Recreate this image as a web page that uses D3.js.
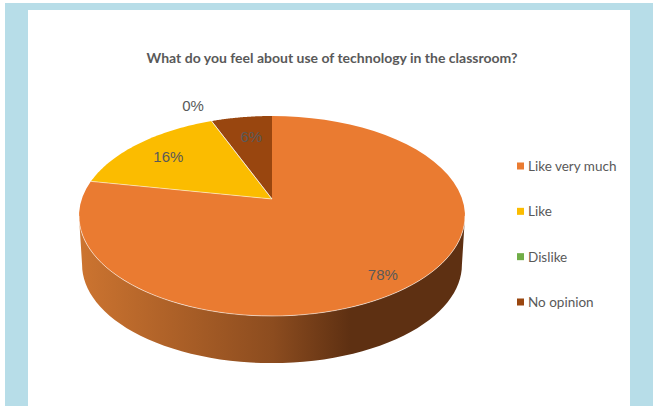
<!DOCTYPE html>
<html>
<head>
<meta charset="utf-8">
<style>
html, body { margin: 0; padding: 0; background: #fff; }
svg { display: block; }
</style>
<script src="https://cdn.jsdelivr.net/npm/d3@7/dist/d3.min.js"></script>
</head>
<body>
<svg id="chart" width="653" height="406"></svg>
<script>
//chart data
var categories = ['Like very much', 'Like', 'Dislike', 'No opinion'];
var values = [78, 16, 0, 6];
var labels = ['78%', '16%', '0%', '6%'];
var colors = ['#ea7b31', '#fbbc00', '#70ad47', '#99460f'];
var title = 'What do you feel about use of technology in the classroom?';

//pie tilt: the apex sits above the middle of the ellipse, like the 3D pie it comes from
var centerX = 272, centerY = 199;
var radiusX = 190.2, radiusY = 97.1, tilt = 0.17;
var depth = 49, rimScale = 0.984;

//label nudges from the default spot, same order as categories
var labelNudge = [[10, 13], [-2, 0], [-32, -33], [3, 1]];

var svg = d3.select('#chart');

//from a pie angle (clockwise from the top) to the page
function project(angle, r, scale, dy) {
    var u = Math.sin(angle) * r, v = Math.cos(angle) * r;
    var w = 1 + tilt * v;
    return [centerX + radiusX * scale * u / w, centerY + dy - radiusY * scale * v / w];
}

//angles between two ends, for drawing the curved rim
function angleSteps(a0, a1) {
    return d3.range(0, 61).map(function(i) { return a0 + (a1 - a0) * i / 60; });
}

var line = d3.line();

//page background and white panel
svg.append('rect').attr('x', 5).attr('y', 3).attr('width', 648).attr('height', 403).attr('fill', '#b7dde8');
svg.append('rect').attr('x', 28).attr('y', 10).attr('width', 602).attr('height', 396).attr('fill', '#fff');

//gradient of the side wall
var grad = svg.append('defs').append('linearGradient')
    .attr('id', 'wall')
    .attr('gradientUnits', 'userSpaceOnUse')
    .attr('x1', 80).attr('x2', 466).attr('y1', 0).attr('y2', 0);
grad.append('stop').attr('offset', '0').attr('stop-color', '#cc7430');
grad.append('stop').attr('offset', '0.5').attr('stop-color', '#8c4c1f');
grad.append('stop').attr('offset', '0.7').attr('stop-color', '#5e3012');
grad.append('stop').attr('offset', '1').attr('stop-color', '#5e3012');

//side wall between the widest points of the pie
var edge = Math.asin(tilt);
var a0 = Math.PI / 2 + edge, a1 = 3 * Math.PI / 2 - edge;
var upperRim = angleSteps(a0, a1).map(function(a) { return project(a, 1, 1, 0); });
var lowerRim = angleSteps(a1, a0).map(function(a) { return project(a, 1, rimScale, depth); });
svg.append('path')
    .attr('d', line(upperRim.concat(lowerRim)) + 'Z')
    .attr('fill', 'url(#wall)');

//slices
var pie = d3.pie().sort(null).value(function(d) { return d; });
var arcs = pie(values);

svg.selectAll('.slice')
    .data(arcs)
    .enter().append('path')
    .attr('class', 'slice')
    .attr('d', function(d) {
        var pts = angleSteps(d.startAngle, d.endAngle).map(function(a) { return project(a, 1, 1, 0); });
        return line([[centerX, centerY]].concat(pts)) + 'Z';
    })
    .attr('fill', function(d, i) { return colors[i]; });

//thin light lines: the front rim and the slice borders, none on the top border
svg.append('path')
    .attr('d', line(upperRim))
    .attr('fill', 'none')
    .attr('stroke', '#fff')
    .attr('stroke-opacity', 0.75)
    .attr('stroke-width', 0.7);

svg.selectAll('.divider')
    .data(arcs.slice(0, arcs.length - 1))
    .enter().append('path')
    .attr('class', 'divider')
    .attr('d', function(d) { return line([[centerX, centerY], project(d.endAngle, 1, 1, 0)]); })
    .attr('stroke', '#fff')
    .attr('stroke-opacity', 0.75)
    .attr('stroke-width', 0.7);

//percent labels
svg.selectAll('.label')
    .data(arcs)
    .enter().append('text')
    .attr('class', 'label')
    .attr('x', function(d, i) { return project((d.startAngle + d.endAngle) / 2, 0.75, 1, 0)[0] + labelNudge[i][0]; })
    .attr('y', function(d, i) { return project((d.startAngle + d.endAngle) / 2, 0.75, 1, 0)[1] + labelNudge[i][1]; })
    .attr('text-anchor', 'middle')
    .attr('dominant-baseline', 'central')
    .attr('font-family', '"Liberation Sans", Arial, sans-serif')
    .attr('font-size', 15)
    .attr('fill', '#595959')
    .text(function(d, i) { return labels[i]; });

//title
svg.append('text')
    .attr('x', 332)
    .attr('y', 57)
    .attr('text-anchor', 'middle')
    .attr('dominant-baseline', 'central')
    .attr('font-family', 'Lato, sans-serif')
    .attr('font-weight', 'bold')
    .attr('font-size', 14)
    .attr('fill', '#595959')
    .text(title);

//legend
var legendY = d3.scalePoint().domain(categories).range([166, 302]);

var legend = svg.selectAll('.legend')
    .data(categories)
    .enter().append('g')
    .attr('class', 'legend')
    .attr('transform', function(d) { return 'translate(517,' + legendY(d) + ')'; });

legend.append('rect')
    .attr('x', 0).attr('y', -3.5)
    .attr('width', 7).attr('height', 7)
    .attr('fill', function(d, i) { return colors[i]; });

legend.append('text')
    .attr('x', 11)
    .attr('dominant-baseline', 'central')
    .attr('font-family', 'Lato, sans-serif')
    .attr('font-size', 13.5)
    .attr('fill', '#595959')
    .text(function(d) { return d; });
</script>
</body>
</html>
